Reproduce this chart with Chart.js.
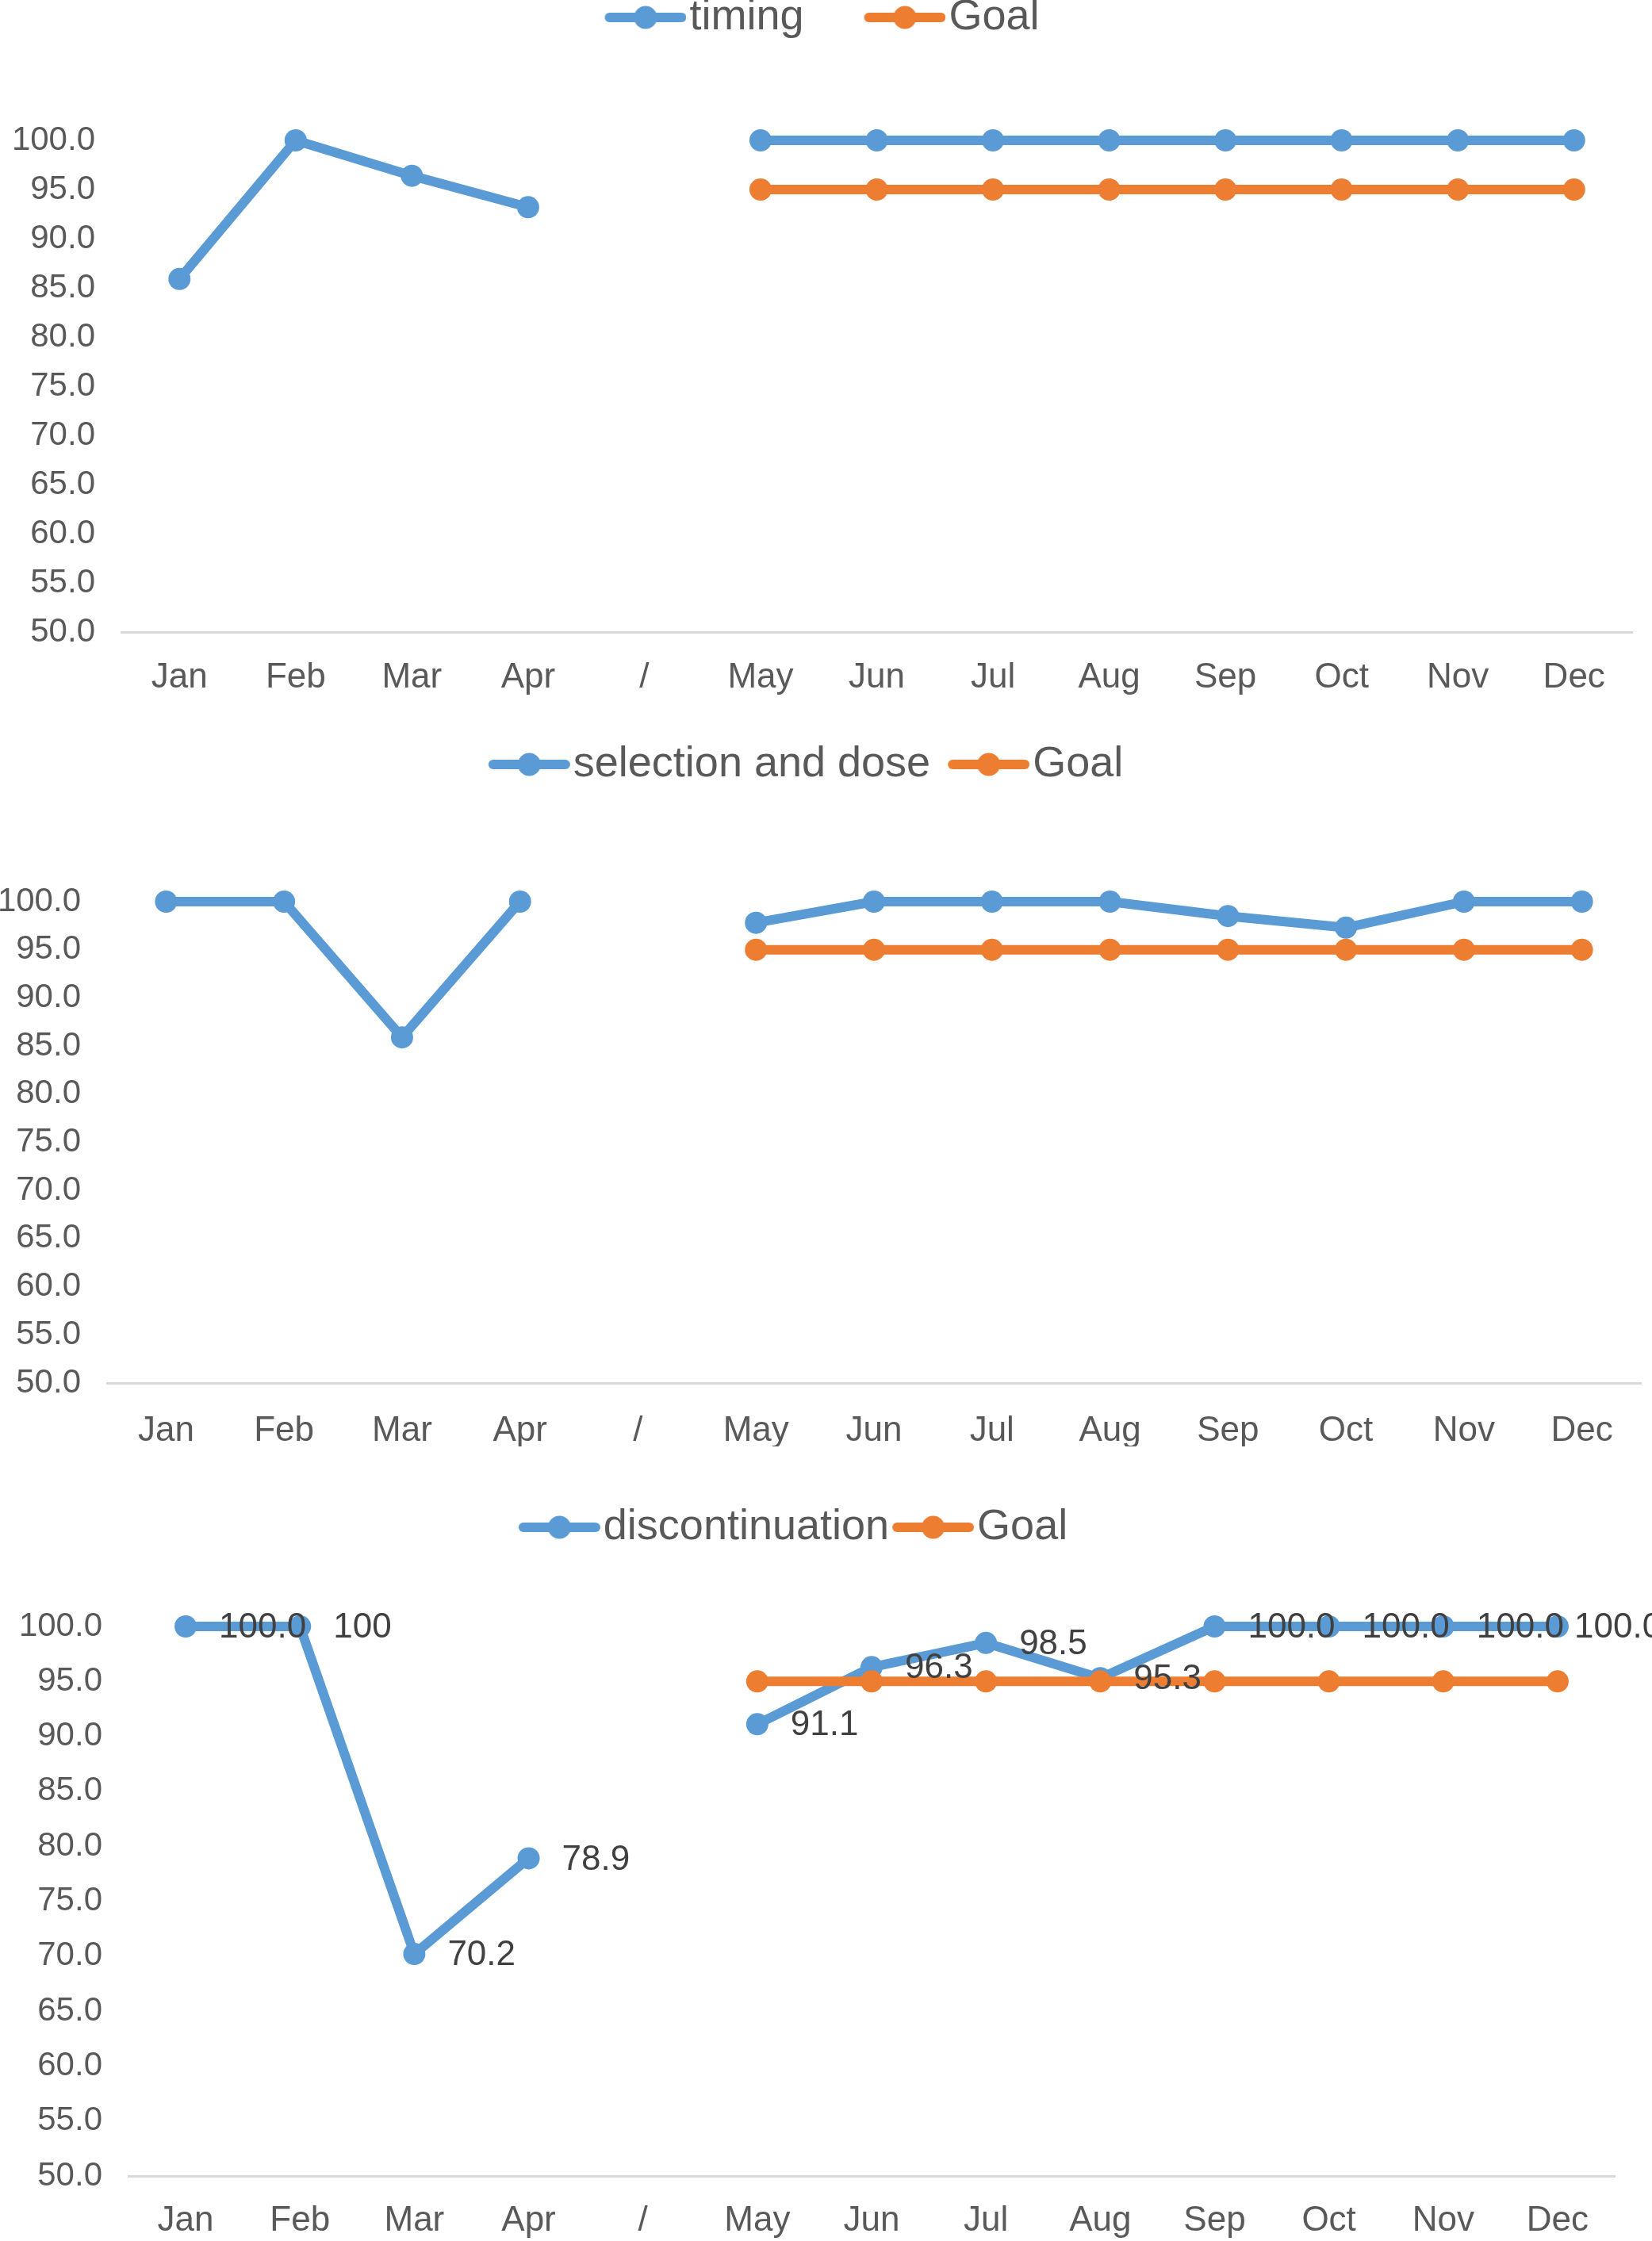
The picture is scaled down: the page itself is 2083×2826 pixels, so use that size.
<!DOCTYPE html>
<html>
<head>
<meta charset="utf-8">
<script src="https://cdn.jsdelivr.net/npm/chart.js@4.4.1/dist/chart.umd.min.js"></script>
<style>
html,body{margin:0;padding:0;background:#ffffff;overflow:hidden;width:2083px;height:2826px;}
.box{position:absolute;left:0;width:2083px;}
</style>
</head>
<body>
<div class="box" id="b1" style="top:-81px;height:958px;"><canvas id="c1"></canvas></div>
<div class="box" id="b2" style="top:915px;height:909px;"><canvas id="c2"></canvas></div>
<div class="box" id="b3" style="top:1895px;height:929px;"><canvas id="c3"></canvas></div>
<script>
// ---- data ----
const categories = ['Jan','Feb','Mar','Apr','/','May','Jun','Jul','Aug','Sep','Oct','Nov','Dec'];
const timingValues = [85.9, 100, 96.4, 93.2, null, 100, 100, 100, 100, 100, 100, 100, 100];
const selectionDoseValues = [100, 100, 85.9, 100, null, 97.8, 100, 100, 100, 98.5, 97.3, 100, 100];
const discontinuationValues = [100, 100, 70.2, 78.9, null, 91.1, 96.3, 98.5, 95.3, 100, 100, 100, 100];
const discontinuationLabels = ['100.0', '100', '70.2', '78.9', null, '91.1', '96.3', '98.5', '95.3', '100.0', '100.0', '100.0', '100.0'];
const goalValues = [null, null, null, null, null, 95, 95, 95, 95, 95, 95, 95, 95];
const seriesNames = ['timing', 'selection and dose', 'discontinuation'];
const goalName = 'Goal';
const yMin = 50, yMax = 100, yStep = 5;

// ---- styles ----
const BLUE = '#5B9BD5', ORANGE = '#ED7D31';
const FONT = "'Liberation Sans', Arial, Helvetica, sans-serif";
const TEXT = '#595959';

function legendImage(color) {
  const c = document.createElement('canvas');
  c.width = 126; c.height = 32;
  const g = c.getContext('2d');
  g.strokeStyle = color; g.lineWidth = 12; g.lineCap = 'round';
  g.beginPath(); g.moveTo(23 + 6, 16); g.lineTo(126 - 6, 16); g.stroke();
  g.fillStyle = color;
  g.beginPath(); g.arc(74.5, 16, 14.5, 0, Math.PI * 2); g.fill();
  return c;
}
const legendImgs = [legendImage(BLUE), legendImage(ORANGE)];

const pointLabelPlugin = {
  id: 'pointLabels',
  afterDatasetsDraw(chart, args, opts) {
    if (!opts || !opts.labels) return;
    const meta = chart.getDatasetMeta(0);
    const ctx = chart.ctx;
    ctx.save();
    ctx.font = "44px " + FONT;
    ctx.fillStyle = '#404040';
    ctx.textAlign = 'left';
    ctx.textBaseline = 'middle';
    meta.data.forEach((pt, i) => {
      const t = opts.labels[i];
      if (t == null || pt.skip) return;
      const x = Math.min(pt.x + 42, chart.width - 98);
      ctx.fillText(t, x, pt.y + 2);
    });
    ctx.restore();
  }
};

function makeChart(id, name, values, cfg) {
  return new Chart(document.getElementById(id), {
    type: 'line',
    data: {
      labels: categories,
      datasets: [
        {label: name, data: values, borderColor: BLUE, backgroundColor: BLUE,
         pointBackgroundColor: BLUE, order: 1},
        {label: goalName, data: goalValues, borderColor: ORANGE, backgroundColor: ORANGE,
         pointBackgroundColor: ORANGE, order: 0}
      ].map(d => Object.assign(d, {
        borderWidth: 12, pointRadius: 14, pointHoverRadius: 14, pointBorderWidth: 0,
        borderCapStyle: 'round', borderJoinStyle: 'round', tension: 0,
        spanGaps: false, clip: false, fill: false
      }))
    },
    plugins: cfg.labels ? [pointLabelPlugin] : [],
    options: {
      responsive: true,
      maintainAspectRatio: false,
      animation: false,
      events: [],
      layout: {padding: {left: cfg.padL, right: cfg.padR, top: 0, bottom: 0}},
      plugins: {
        tooltip: {enabled: false},
        pointLabels: {labels: cfg.labels || null},
        legend: {
          display: true,
          position: 'top',
          labels: {
            usePointStyle: true,
            pointStyleWidth: 80,
            padding: cfg.legendPad,
            color: TEXT,
            font: {size: 54, family: FONT},
            generateLabels: (chart) => chart.data.datasets.map((ds, i) => ({
              text: ds.label, pointStyle: legendImgs[i], fontColor: TEXT,
              fillStyle: ds.borderColor, strokeStyle: ds.borderColor, lineWidth: 0,
              hidden: false, datasetIndex: i
            }))
          }
        },
        subtitle: {
          display: true, text: '', position: 'top', weight: 100,
          padding: {top: cfg.spacer - 1, bottom: 0},
          font: {size: 1, lineHeight: 1}
        }
      },
      scales: {
        x: {
          type: 'category',
          offset: true,
          grid: {display: false, drawTicks: false},
          border: {display: true, color: '#D9D9D9', width: 3},
          ticks: {padding: cfg.xPad, color: TEXT, font: {size: 44, family: FONT},
                  maxRotation: 0, autoSkip: false},
          afterFit: (s) => { s.height = 80; }
        },
        y: {
          min: yMin, max: yMax,
          grid: {display: false, drawTicks: false},
          border: {display: false},
          ticks: {stepSize: yStep, padding: 33, color: TEXT, font: {size: 42, family: FONT},
                  callback: (v) => Number(v).toFixed(1)},
          afterFit: (s) => { s.width = cfg.yW; }
        }
      }
    }
  });
}

makeChart('c1', seriesNames[0], timingValues,
  {padL: 15, padR: 25, yW: 138, legendPad: 76, spacer: 118, xPad: 31});
makeChart('c2', seriesNames[1], selectionDoseValues,
  {padL: -46, padR: 5, yW: 181, legendPad: 22, spacer: 136, xPad: 34});
makeChart('c3', seriesNames[2], discontinuationValues,
  {padL: -36, padR: 47, yW: 198, legendPad: 4, spacer: 88, xPad: 30, labels: discontinuationLabels});
</script>
</body>
</html>
